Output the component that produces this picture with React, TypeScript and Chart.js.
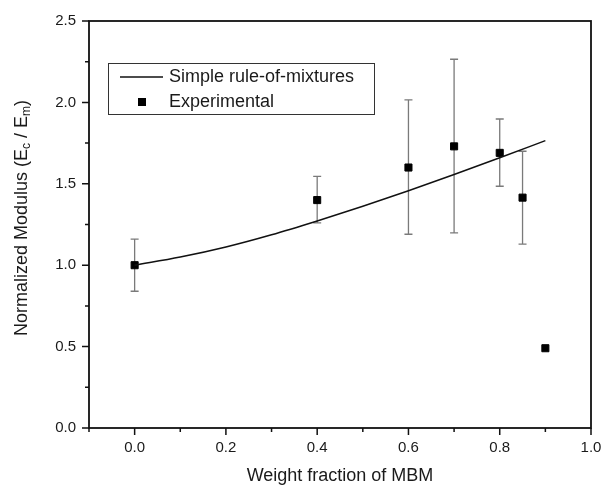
import React, { useEffect, useRef } from 'react';
import { Chart, registerables } from 'chart.js';

Chart.register(...registerables);

// ---- data ----
const expX = [0, 0.4, 0.6, 0.7, 0.8, 0.85, 0.9];
const expY = [1.0, 1.4, 1.6, 1.73, 1.69, 1.415, 0.49];
const errHigh: (number | null)[] = [1.16, 1.545, 2.015, 2.265, 1.898, 1.7, null];
const errLow: (number | null)[] = [0.84, 1.26, 1.19, 1.198, 1.485, 1.13, null];

const curveX = [0, 0.1, 0.2, 0.3, 0.4, 0.5, 0.6, 0.7, 0.8, 0.9];
const curveY = [1.0, 1.05, 1.112, 1.187, 1.272, 1.362, 1.457, 1.557, 1.66, 1.765];

const xTickLabels = ['0.0', '0.2', '0.4', '0.6', '0.8', '1.0'];
const yTickLabels = ['0.0', '0.5', '1.0', '1.5', '2.0', '2.5'];

const seriesNames = ['Simple rule-of-mixtures', 'Experimental'];
const xTitle = 'Weight fraction of MBM';

const FONT = '"Liberation Sans", Arial, Helvetica, sans-serif';
const TEXT = '#1a1a1a';

const errorBarPlugin = {
  id: 'errorBars',
  beforeDatasetsDraw(chart: any) {
    const { ctx } = chart;
    const xs = chart.scales.x;
    const ys = chart.scales.y;
    ctx.save();
    ctx.strokeStyle = '#7a7a7a';
    ctx.lineWidth = 1.3;
    for (let i = 0; i < expX.length; i++) {
      const hi = errHigh[i];
      const lo = errLow[i];
      if (hi == null || lo == null) continue;
      const px = xs.getPixelForValue(expX[i]);
      const py1 = ys.getPixelForValue(hi);
      const py2 = ys.getPixelForValue(lo);
      ctx.beginPath();
      ctx.moveTo(px, py1);
      ctx.lineTo(px, py2);
      ctx.moveTo(px - 4, py1);
      ctx.lineTo(px + 4, py1);
      ctx.moveTo(px - 4, py2);
      ctx.lineTo(px + 4, py2);
      ctx.stroke();
    }
    ctx.restore();
  },
};

const framePlugin = {
  id: 'frame',
  afterDraw(chart: any) {
    const { ctx, chartArea } = chart;
    const { left, right, top, bottom } = chartArea;
    const xs = chart.scales.x;
    const ys = chart.scales.y;
    ctx.save();
    ctx.strokeStyle = '#111';
    ctx.lineWidth = 1.8;
    ctx.strokeRect(left, top, right - left, bottom - top);
    ctx.lineWidth = 1.5;
    ctx.beginPath();
    xs.ticks.forEach((t: any) => {
      const s = Number(t.value).toFixed(1);
      const major = xTickLabels.includes(s);
      const px = xs.getPixelForValue(t.value);
      ctx.moveTo(px, bottom);
      ctx.lineTo(px, bottom + (major ? 7 : 4));
    });
    ys.ticks.forEach((t: any) => {
      const s = Number(t.value).toFixed(1);
      const major = Math.abs(t.value * 2 - Math.round(t.value * 2)) < 1e-6 && yTickLabels.includes(s);
      const py = ys.getPixelForValue(t.value);
      ctx.moveTo(left, py);
      ctx.lineTo(left - (major ? 7 : 4), py);
    });
    ctx.stroke();

    // x title
    ctx.fillStyle = TEXT;
    ctx.font = `18px ${FONT}`;
    ctx.textAlign = 'center';
    ctx.textBaseline = 'middle';
    ctx.fillText(xTitle, (left + right) / 2, 476);

    // y title with subscripts
    const parts: [string, boolean][] = [
      ['Normalized Modulus (E', false],
      ['c', true],
      [' / E', false],
      ['m', true],
      [')', false],
    ];
    const big = `18px ${FONT}`;
    const small = `12px ${FONT}`;
    let total = 0;
    const widths = parts.map(([txt, sub]) => {
      ctx.font = sub ? small : big;
      const w = ctx.measureText(txt).width;
      total += w;
      return w;
    });
    ctx.save();
    ctx.translate(21, 218);
    ctx.rotate(-Math.PI / 2);
    ctx.textAlign = 'left';
    ctx.textBaseline = 'alphabetic';
    let cx = -total / 2;
    parts.forEach(([txt, sub], i) => {
      ctx.font = sub ? small : big;
      ctx.fillText(txt, cx, sub ? 9 : 6);
      cx += widths[i];
    });
    ctx.restore();

    // legend
    ctx.fillStyle = '#fff';
    ctx.fillRect(108.5, 63.5, 266, 51);
    ctx.strokeStyle = '#333';
    ctx.lineWidth = 1;
    ctx.strokeRect(108.5, 63.5, 266, 51);
    ctx.strokeStyle = '#111';
    ctx.lineWidth = 1.5;
    ctx.beginPath();
    ctx.moveTo(120, 77);
    ctx.lineTo(163, 77);
    ctx.stroke();
    ctx.fillStyle = '#000';
    ctx.fillRect(138, 98, 8, 8);
    ctx.fillStyle = TEXT;
    ctx.font = `18px ${FONT}`;
    ctx.textAlign = 'left';
    ctx.textBaseline = 'middle';
    ctx.fillText(seriesNames[0], 169, 77);
    ctx.fillText(seriesNames[1], 169, 102);
    ctx.restore();
  },
};

export default function App() {
  const ref = useRef<HTMLCanvasElement | null>(null);
  useEffect(() => {
    document.body.style.margin = '0';
    if (!ref.current) return;
    const chart = new Chart(ref.current, {
      type: 'scatter',
      data: {
        datasets: [
          {
            label: seriesNames[0],
            data: curveX.map((x, i) => ({ x, y: curveY[i] })),
            showLine: true,
            borderColor: '#111',
            borderWidth: 1.5,
            pointRadius: 0,
            cubicInterpolationMode: 'monotone',
            fill: false,
          },
          {
            label: seriesNames[1],
            data: expX.map((x, i) => ({ x, y: expY[i] })),
            pointStyle: 'rect',
            pointRadius: 5,
            pointBorderWidth: 1,
            backgroundColor: '#000',
            borderColor: '#000',
            showLine: false,
          },
        ],
      } as any,
      options: {
        responsive: false,
        animation: false,
        devicePixelRatio: 1,
        layout: { padding: { top: 21, right: 11, left: 0, bottom: 0 } },
        plugins: { legend: { display: false }, tooltip: { enabled: false } },
        scales: {
          x: {
            type: 'linear',
            min: -0.1,
            max: 1.0,
            afterFit: (s: any) => { s.height = 59; s.paddingRight = 0; s.paddingLeft = 0; },
            border: { display: false },
            grid: { display: false, drawTicks: true, tickLength: 7 },
            ticks: {
              stepSize: 0.1,
              autoSkip: false,
              maxRotation: 0,
              padding: 4,
              color: TEXT,
              font: { family: FONT, size: 15 },
              callback: (v: any) => {
                const s = Number(v).toFixed(1);
                return xTickLabels.includes(s) ? s : '';
              },
            },
          },
          y: {
            type: 'linear',
            min: 0,
            max: 2.5,
            afterFit: (s: any) => { s.width = 89; s.paddingTop = 0; s.paddingBottom = 0; },
            border: { display: false },
            grid: { display: false, drawTicks: true, tickLength: 7 },
            ticks: {
              stepSize: 0.25,
              autoSkip: false,
              padding: 6,
              color: TEXT,
              font: { family: FONT, size: 15 },
              callback: (v: any) => {
                const n = Number(v);
                if (Math.abs(n * 2 - Math.round(n * 2)) > 1e-6) return '';
                const s = n.toFixed(1);
                return yTickLabels.includes(s) ? s : '';
              },
            },
          },
        },
      } as any,
      plugins: [errorBarPlugin, framePlugin],
    });
    return () => chart.destroy();
  }, []);
  return (
    <div style={{ width: 602, height: 487 }}>
      <canvas ref={ref} width={602} height={487} />
    </div>
  );
}
